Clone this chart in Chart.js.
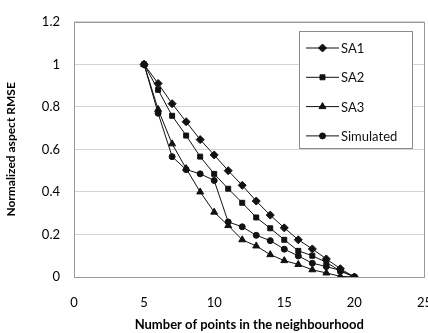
<!DOCTYPE html>
<html>
<head>
<meta charset="utf-8">
<script src="https://cdn.jsdelivr.net/npm/chart.js@4/dist/chart.umd.min.js"></script>
<style>
    html, body { margin: 0; padding: 0; background: #fff; overflow: hidden; }
    #wrap { width: 442px; height: 333px; }
</style>
</head>
<body>
<div id="wrap"><canvas id="rmseChart"></canvas></div>
<script>
const points = [5, 6, 7, 8, 9, 10, 11, 12, 13, 14, 15, 16, 17, 18, 19, 20];
const sa1 = [1, 0.91, 0.815, 0.73, 0.646, 0.574, 0.5, 0.431, 0.357, 0.291, 0.231, 0.175, 0.132, 0.085, 0.039, 0];
const sa2 = [1, 0.88, 0.758, 0.665, 0.566, 0.485, 0.415, 0.349, 0.28, 0.229, 0.175, 0.123, 0.1, 0.069, 0.028, 0];
const sa3 = [1, 0.788, 0.626, 0.51, 0.4, 0.305, 0.242, 0.175, 0.146, 0.105, 0.077, 0.059, 0.034, 0.019, 0.003, 0];
const simulated = [1, 0.77, 0.566, 0.505, 0.485, 0.454, 0.259, 0.236, 0.196, 0.171, 0.131, 0.099, 0.065, 0.049, 0.031, 0];
const seriesNames = ['SA1', 'SA2', 'SA3', 'Simulated'];

const fontFamily = 'Lato, "Open Sans", sans-serif';

function toXY(values) {
    return values.map((v, i) => ({ x: points[i], y: v }));
}

function series(label, values, style, radius) {
    return {
        label: label,
        data: toXY(values),
        borderColor: '#111',
        backgroundColor: '#111',
        borderWidth: 1,
        pointStyle: style,
        pointRadius: radius,
        pointBorderWidth: 1,
        pointBackgroundColor: '#111',
        pointBorderColor: '#111',
        tension: 0
    };
}

// plot frame + boxed legend inside the plot, like the spreadsheet original
const framePlugin = {
    id: 'frame',
    afterDraw(chart) {
        const ctx = chart.ctx;
        const a = chart.chartArea;
        ctx.save();
        ctx.strokeStyle = '#9a9a9a';
        ctx.lineWidth = 1;
        ctx.strokeRect(Math.round(a.left) + 0.5, Math.round(a.top) + 0.5, Math.round(a.right - a.left), Math.round(a.bottom - a.top));

        const bx = 299.5, by = 31.5, bw = 113, bh = 117;
        ctx.fillStyle = '#fff';
        ctx.fillRect(bx, by, bw, bh);
        ctx.strokeStyle = '#8c8c8c';
        ctx.strokeRect(bx, by, bw, bh);

        ctx.font = '13px ' + fontFamily;
        ctx.textBaseline = 'middle';
        chart.data.datasets.forEach((ds, i) => {
            const y = 48 + i * 29.3;
            ctx.strokeStyle = '#111';
            ctx.fillStyle = '#111';
            ctx.beginPath();
            ctx.moveTo(306, y);
            ctx.lineTo(339, y);
            ctx.stroke();
            Chart.helpers.drawPoint(ctx, {
                pointStyle: ds.pointStyle,
                radius: ds.pointRadius,
                rotation: 0,
                borderWidth: 1
            }, 322.5, y);
            ctx.fillStyle = '#111';
            ctx.fillText(ds.label, 341, y + 1);
        });
        ctx.restore();
    }
};

new Chart(document.getElementById('rmseChart').getContext('2d'), {
    type: 'line',
    data: {
        datasets: [
            series(seriesNames[0], sa1, 'rectRot', 4),
            series(seriesNames[1], sa2, 'rect', 3.5),
            series(seriesNames[2], sa3, 'triangle', 4),
            series(seriesNames[3], simulated, 'circle', 3)
        ]
    },
    options: {
        responsive: true,
        maintainAspectRatio: false,
        animation: false,
        layout: { padding: { top: 10, left: 0, right: 0, bottom: 0 } },
        plugins: {
            legend: { display: false },
            tooltip: { enabled: false }
        },
        scales: {
            x: {
                type: 'linear',
                min: 0,
                max: 25,
                ticks: {
                    stepSize: 5,
                    color: '#000',
                    padding: 10,
                    font: { family: fontFamily, size: 13 }
                },
                grid: { display: false },
                border: { color: '#8c8c8c' },
                title: {
                    display: true,
                    text: 'Number of points in the neighbourhood',
                    color: '#000',
                    font: { family: fontFamily, size: 13, weight: 'bold' },
                    padding: { top: 6, bottom: 0 }
                },
                afterFit(scale) { scale.height = 56; }
            },
            y: {
                min: 0,
                max: 1.2,
                ticks: {
                    stepSize: 0.2,
                    color: '#000',
                    padding: 14,
                    font: { family: fontFamily, size: 13 },
                    callback: (v) => String(Math.round(v * 10) / 10)
                },
                grid: { color: '#d4d4d4', drawTicks: false },
                border: { display: false },
                title: {
                    display: true,
                    text: 'Normalized aspect RMSE',
                    color: '#000',
                    font: { family: fontFamily, size: 12, weight: 'bold' },
                    padding: { top: 4, bottom: 0 }
                },
                afterFit(scale) { scale.width = 74; }
            }
        }
    },
    plugins: [framePlugin]
});
</script>
</body>
</html>
